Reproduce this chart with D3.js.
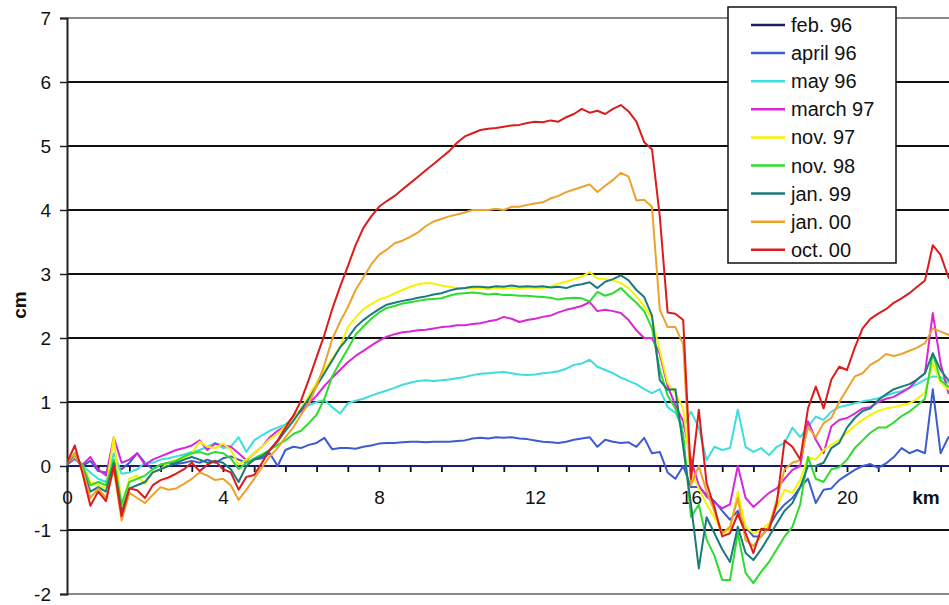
<!DOCTYPE html>
<html>
<head>
<meta charset="utf-8">
<script src="https://cdn.jsdelivr.net/npm/d3@7"></script>
<style>
  body { margin: 0; background: #fff; }
  svg { display: block; font-family: Arial, "Liberation Sans", sans-serif; }
</style>
</head>
<body>
<svg id="chart" width="949" height="605"></svg>
<script>
// Distance along the profile (km), one sample every 0.2 km
const km = [
  0.0, 0.2, 0.4, 0.6, 0.8, 1.0, 1.2, 1.4, 1.6, 1.8, 2.0, 2.2, 2.4, 2.6, 2.8,
  3.0, 3.2, 3.4, 3.6, 3.8, 4.0, 4.2, 4.4, 4.6, 4.8, 5.0, 5.2, 5.4, 5.6, 5.8,
  6.0, 6.2, 6.4, 6.6, 6.8, 7.0, 7.2, 7.4, 7.6, 7.8, 8.0, 8.2, 8.4, 8.6, 8.8,
  9.0, 9.2, 9.4, 9.6, 9.8, 10.0, 10.2, 10.4, 10.6, 10.8, 11.0, 11.2, 11.4, 11.6, 11.8,
  12.0, 12.2, 12.4, 12.6, 12.8, 13.0, 13.2, 13.4, 13.6, 13.8, 14.0, 14.2, 14.4, 14.6, 14.8,
  15.0, 15.2, 15.4, 15.6, 15.8, 16.0, 16.2, 16.4, 16.6, 16.8, 17.0, 17.2, 17.4, 17.6, 17.8,
  18.0, 18.2, 18.4, 18.6, 18.8, 19.0, 19.2, 19.4, 19.6, 19.8, 20.0, 20.2, 20.4, 20.6, 20.8,
  21.0, 21.2, 21.4, 21.6, 21.8, 22.0, 22.2, 22.4, 22.6, 22.8, 23.0
];

// Height change (cm) relative to the February 1996 survey
const feb96 = [
  0, 0, 0, 0, 0, 0, 0, 0, 0, 0, 0, 0, 0, 0, 0, 0, 0, 0, 0, 0,
  0, 0, 0, 0, 0, 0, 0, 0, 0, 0, 0, 0, 0, 0, 0, 0, 0, 0, 0, 0,
  0, 0, 0, 0, 0, 0, 0, 0, 0, 0, 0, 0, 0, 0, 0, 0, 0, 0, 0, 0,
  0, 0, 0, 0, 0, 0, 0, 0, 0, 0, 0, 0, 0, 0, 0, 0, 0, 0, 0, 0,
  0, 0, 0, 0, 0, 0, 0, 0, 0, 0, 0, 0, 0, 0, 0, 0, 0, 0, 0, 0,
  0, 0, 0, 0, 0, 0, 0, 0, 0, 0, 0, 0, 0, 0, 0, 0
];
const april96 = [
  0.02, 0.12, 0.0, 0.08, -0.08,  -0.1, 0.05, -0.05, 0.05, 0.2,
  0.05, -0.05, 0.02, 0.05, 0.03,  0.05, 0.08, 0.05, 0.1, 0.05,
  0.12, 0.15, 0.1, 0.05, 0.1,  0.12, 0.2, 0.0, 0.25, 0.3,
  0.28, 0.33, 0.36, 0.44, 0.26,  0.28, 0.28, 0.27, 0.3, 0.32,
  0.35, 0.36, 0.36, 0.37, 0.38,  0.38, 0.37, 0.38, 0.38, 0.38,
  0.39, 0.4, 0.43, 0.44, 0.43,  0.45, 0.44, 0.45, 0.43, 0.42,
  0.4, 0.38, 0.37, 0.36, 0.38,  0.41, 0.43, 0.45, 0.3, 0.41,
  0.38, 0.36, 0.37, 0.3, 0.44,  0.2, 0.22, -0.1, -0.2, 0.0,
  -0.33, -0.33, -0.45, -0.55, -0.7,  -0.84, -0.7, -0.95, -1.1, -1.1,
  -0.95, -0.74, -0.6, -0.5, -0.33,  -0.2, -0.58, -0.37, -0.35, -0.22,
  -0.14, -0.06, 0.0, 0.03, -0.03,  0.04, 0.14, 0.28, 0.2, 0.25,
  0.2, 1.2, 0.2, 0.45, 0.4,  0.35
];
const may96 = [
  0.03, 0.1, 0.0, -0.1, -0.2,  -0.25, 0.2, -0.12, -0.1, -0.05,
  0.05, 0.05, 0.1, 0.12, 0.15,  0.18, 0.22, 0.25, 0.3, 0.36,
  0.28, 0.3, 0.45, 0.22, 0.4,  0.48, 0.55, 0.6, 0.65, 0.75,
  0.85, 0.95, 1.0, 1.03, 0.92,  0.82, 0.98, 1.02, 1.05, 1.1,
  1.14, 1.18, 1.22, 1.27, 1.3,  1.33, 1.34, 1.33, 1.34, 1.35,
  1.37, 1.39, 1.42, 1.44, 1.45,  1.46, 1.47, 1.45, 1.43, 1.42,
  1.43, 1.45, 1.46, 1.48, 1.52,  1.58, 1.6, 1.66, 1.55, 1.5,
  1.45, 1.38, 1.33, 1.28, 1.2,  1.14, 1.2, 0.92, 0.83, 0.6,
  0.85, 0.6, 0.09, 0.3, 0.25,  0.28, 0.88, 0.3, 0.22, 0.28,
  0.17, 0.3, 0.36, 0.6, 0.45,  0.61, 0.77, 0.72, 0.85, 0.92,
  0.95, 0.98, 1.01, 1.03, 1.06,  1.1, 1.14, 1.17, 1.22, 1.28,
  1.35, 1.4, 1.39, 1.3, 1.28,  1.25
];
const march97 = [
  0.02, 0.12, 0.02, 0.14, -0.05,  -0.15, 0.45, 0.05, 0.1, 0.2,
  0.02, 0.1, 0.15, 0.2, 0.25,  0.28, 0.32, 0.4, 0.25, 0.35,
  0.32, 0.3, 0.2, 0.09, 0.2,  0.3, 0.45, 0.55, 0.62, 0.78,
  0.85, 0.98, 1.1, 1.25, 1.38,  1.5, 1.62, 1.72, 1.8, 1.88,
  1.96, 2.02, 2.06, 2.09, 2.1,  2.12, 2.13, 2.15, 2.17, 2.18,
  2.2, 2.2, 2.22, 2.23, 2.26,  2.28, 2.33, 2.3, 2.25, 2.28,
  2.3, 2.33, 2.35, 2.4, 2.44,  2.47, 2.5, 2.56, 2.42, 2.44,
  2.42, 2.39, 2.28, 2.12, 2.0,  2.0, 1.75, 1.25, 0.95, 0.7,
  0.1, -0.3, -0.48, -0.57, -0.66,  -0.6, 0.0, -0.5, -0.64, -0.53,
  -0.42, -0.35, -0.2, -0.06, 0.0,  0.7, 0.41, 0.2, 0.62, 0.72,
  0.75, 0.82, 0.9, 0.92, 1.0,  1.05, 1.08, 1.15, 1.22, 1.35,
  1.45, 2.39, 1.6, 1.14, 1.1,  1.05
];
const nov97 = [
  0.03, 0.15, 0.0, -0.25, -0.3,  -0.35, 0.45, -0.62, -0.2, -0.15,
  -0.28, -0.1, -0.05, 0.05, 0.1,  0.12, 0.2, 0.38, 0.3, 0.28,
  0.35, 0.25, 0.02, 0.1, 0.2,  0.3, 0.42, 0.5, 0.62, 0.72,
  0.9, 1.1, 1.3, 1.5, 1.68,  1.86, 2.17, 2.32, 2.45, 2.53,
  2.6, 2.64, 2.7, 2.75, 2.8,  2.84, 2.86, 2.85, 2.82, 2.8,
  2.78, 2.77, 2.78, 2.78, 2.76,  2.78, 2.77, 2.78, 2.77, 2.79,
  2.78, 2.78, 2.8, 2.85, 2.88,  2.92, 2.96, 3.03, 2.93, 2.92,
  2.9, 2.86, 2.78, 2.65, 2.5,  2.3, 1.8, 1.3, 1.14, 0.9,
  -0.1, -0.35, -0.6, -0.8, -1.05,  -1.0, -0.4, -0.95, -1.05, -1.0,
  -0.9, -0.65, -0.37, -0.42, -0.22,  0.14, 0.1, 0.25, 0.33, 0.41,
  0.52, 0.63, 0.72, 0.8, 0.86,  0.9, 0.92, 0.95, 0.98, 1.05,
  1.15, 1.6, 1.3, 1.2, 1.15,  1.1
];
const nov98 = [
  0.02, 0.18, 0.0, -0.3, -0.25,  -0.3, 0.1, -0.6, -0.25, -0.2,
  -0.15, -0.05, 0.02, 0.05, 0.08,  0.15, 0.2, 0.22, 0.18, 0.22,
  0.2, 0.12, -0.05, 0.05, 0.12,  0.18, 0.25, 0.33, 0.4, 0.5,
  0.55, 0.67, 0.8, 1.05, 1.4,  1.62, 1.83, 2.05, 2.18, 2.3,
  2.4, 2.47, 2.5, 2.54, 2.56,  2.58, 2.6, 2.61, 2.62, 2.66,
  2.69, 2.7, 2.71, 2.7, 2.68,  2.69, 2.67, 2.67, 2.66, 2.66,
  2.65, 2.64, 2.63, 2.6, 2.62,  2.63, 2.62, 2.57, 2.72, 2.66,
  2.7, 2.78, 2.66, 2.55, 2.42,  2.15, 1.5, 1.1, 0.9, 0.5,
  -0.8, -0.6, -1.15, -1.4, -1.78,  -1.78, -1.05, -1.67, -1.83, -1.65,
  -1.5, -1.3, -1.1, -0.95, -0.6,  0.14, -0.2, -0.25, -0.05, -0.02,
  0.1, 0.28, 0.4, 0.52, 0.6,  0.6, 0.68, 0.78, 0.85, 0.95,
  1.05, 1.76, 1.34, 1.24, 1.2,  1.15
];
const jan99 = [
  0.02, 0.2, -0.05, -0.4, -0.33,  -0.4, 0.05, -0.72, -0.35, -0.3,
  -0.25, -0.1, -0.05, 0.0, 0.05,  0.1, 0.14, 0.1, 0.05, 0.08,
  0.05, -0.05, -0.25, 0.0, 0.1,  0.15, 0.25, 0.38, 0.55, 0.7,
  0.88, 1.05, 1.25, 1.45, 1.65,  1.85, 2.0, 2.17, 2.28, 2.37,
  2.45, 2.52, 2.55, 2.58, 2.6,  2.63, 2.65, 2.68, 2.7, 2.74,
  2.77, 2.78, 2.8, 2.8, 2.79,  2.81, 2.8, 2.82, 2.8, 2.81,
  2.8, 2.81, 2.79, 2.8, 2.78,  2.82, 2.84, 2.87, 2.78, 2.88,
  2.92, 2.98, 2.9, 2.75, 2.64,  2.35, 1.34, 1.19, 1.2, 0.3,
  -0.6, -1.6, -0.8, -1.05, -1.3,  -1.5, -0.95, -1.36, -1.47, -1.3,
  -1.1, -0.9, -0.7, -0.58, -0.33,  0.0, 0.0, 0.05, 0.28, 0.36,
  0.6, 0.75, 0.86, 0.9, 1.03,  1.12, 1.2, 1.24, 1.28, 1.35,
  1.45, 1.76, 1.5, 1.34, 1.25,  1.2
];
const jan00 = [
  0.05, 0.2, -0.05, -0.5, -0.35,  -0.5, -0.05, -0.85, -0.42, -0.5,
  -0.58, -0.45, -0.33, -0.37, -0.35,  -0.28, -0.2, -0.1, -0.15, -0.22,
  -0.2, -0.3, -0.53, -0.37, -0.2,  -0.02, 0.15, 0.28, 0.45, 0.6,
  0.8, 0.98, 1.25, 1.58, 1.98,  2.25, 2.48, 2.75, 2.95, 3.15,
  3.3, 3.38, 3.48, 3.52, 3.58,  3.65, 3.75, 3.82, 3.86, 3.9,
  3.93, 3.96, 4.0, 4.0, 4.0,  4.02, 4.0, 4.05, 4.05, 4.08,
  4.1, 4.12, 4.18, 4.22, 4.28,  4.32, 4.36, 4.4, 4.28, 4.38,
  4.47, 4.58, 4.52, 4.15, 4.16,  4.05, 2.44, 2.17, 2.17, 1.9,
  -0.3, 0.0, -0.4, -0.7, -1.05,  -0.95, -0.5, -1.16, -1.25, -1.1,
  -0.95, -0.53, -0.05, 0.05, 0.09,  0.61, 0.45, 0.67, 0.75, 1.0,
  1.2, 1.4, 1.45, 1.58, 1.65,  1.75, 1.72, 1.75, 1.8, 1.85,
  1.92, 2.15, 2.1, 2.05, 1.95,  1.9
];
const oct00 = [
  0.05, 0.32, -0.12, -0.62, -0.4,  -0.55, 0.0, -0.78, -0.35, -0.38,
  -0.5, -0.3, -0.22, -0.18, -0.12,  -0.05, 0.05, -0.08, 0.02, 0.08,
  -0.05, -0.1, -0.37, -0.17, -0.14,  0.05, 0.25, 0.4, 0.6, 0.78,
  1.02, 1.35, 1.7, 2.05, 2.45,  2.8, 3.12, 3.45, 3.72, 3.9,
  4.05, 4.14, 4.22, 4.32, 4.42,  4.52, 4.62, 4.72, 4.82, 4.92,
  5.05, 5.15, 5.2, 5.25, 5.27,  5.28, 5.3, 5.32, 5.33, 5.36,
  5.38, 5.37, 5.4, 5.38, 5.45,  5.5, 5.58, 5.52, 5.55, 5.5,
  5.58, 5.64, 5.54, 5.38, 5.06,  4.95, 3.9, 2.4, 2.38, 2.28,
  -0.2, 0.88, -0.27, -0.64, -1.1,  -1.05, -0.75, -1.05, -1.36, -0.98,
  -1.0, -0.58, 0.4, 0.3, 0.1,  0.9, 1.24, 0.9, 1.35, 1.55,
  1.5, 1.85, 2.15, 2.3, 2.38,  2.45, 2.55, 2.62, 2.7, 2.8,
  2.9, 3.45, 3.3, 2.95, 2.8,  2.7
];

const seriesNames = ["feb. 96", "april 96", "may 96", "march 97", "nov. 97",
                     "nov. 98", "jan. 99", "jan. 00", "oct. 00"];
const seriesValues = [feb96, april96, may96, march97, nov97, nov98, jan99, jan00, oct00];
const seriesColors = ["#1c1c6c", "#3c5ccf", "#3ddede", "#d826d8", "#f4f400",
                      "#2edc2e", "#1b7a7c", "#eca22c", "#dc1c1c"];

const yTickValues = [-2, -1, 0, 1, 2, 3, 4, 5, 6, 7];
const xLabelValues = [0, 4, 8, 12, 16, 20];

const svg = d3.select("#chart");
const W = 949, H = 605;
svg.append("rect").attr("width", W).attr("height", H).attr("fill", "#fff");

const x = d3.scaleLinear().domain([0, 23]).range([67, 67 + 23 * 39]);
const y = d3.scaleLinear().domain([-2, 7]).range([594, 18]);
const xRight = W;

// Plot frame (grey) at top and bottom
[7, -2].forEach(v => {
  svg.append("line")
    .attr("x1", 67).attr("x2", xRight)
    .attr("y1", y(v)).attr("y2", y(v))
    .attr("stroke", "#8a8a8a").attr("stroke-width", 2);
});

// Horizontal gridlines
svg.append("g").selectAll("line")
  .data(yTickValues.filter(v => v !== 0 && v !== 7 && v !== -2))
  .join("line")
  .attr("x1", 67).attr("x2", xRight)
  .attr("y1", d => y(d)).attr("y2", d => y(d))
  .attr("stroke", "#111").attr("stroke-width", 1.8);

// Y axis
const yAxis = svg.append("g")
  .attr("transform", "translate(67,0)")
  .call(d3.axisLeft(y).tickValues(yTickValues).tickSize(7).tickPadding(9)
    .tickFormat(d => d < 0 ? "-" + Math.abs(d) : String(d)));
yAxis.select(".domain").attr("stroke", "#222").attr("stroke-width", 2);
yAxis.selectAll(".tick line").attr("stroke", "#222").attr("stroke-width", 1.5);
yAxis.selectAll("text").attr("font-size", 19).attr("fill", "#111")
  .attr("font-family", "Arial, 'Liberation Sans', sans-serif");

// X axis along zero: tick marks every 0.8 km
const xTicks = d3.range(0, 22.5, 0.8);
const xAxisTicks = svg.append("g")
  .attr("transform", `translate(0,${y(0)})`)
  .call(d3.axisBottom(x).tickValues(xTicks).tickSize(6).tickFormat(""));
xAxisTicks.select(".domain").attr("stroke", "#111").attr("stroke-width", 1.5)
  .attr("d", `M67,0H${xRight}`);
xAxisTicks.selectAll(".tick line").attr("stroke", "#111").attr("stroke-width", 1.8);

// X labels every 4 km
const xAxisLabels = svg.append("g")
  .attr("transform", `translate(0,${y(0)})`)
  .call(d3.axisBottom(x).tickValues(xLabelValues).tickSize(0).tickPadding(25)
    .tickFormat(d3.format("d")));
xAxisLabels.select(".domain").remove();
xAxisLabels.selectAll("text").attr("font-size", 19).attr("fill", "#111")
  .attr("font-family", "Arial, 'Liberation Sans', sans-serif");

// Survey lines
const line = d3.line()
  .x((d, i) => x(km[i]))
  .y(d => y(d));

svg.append("defs").append("clipPath").attr("id", "plot-clip")
  .append("rect").attr("x", 67).attr("y", 0).attr("width", W - 67).attr("height", H);

const linesG = svg.append("g").attr("clip-path", "url(#plot-clip)");
seriesValues.forEach((vals, s) => {
  linesG.append("path")
    .datum(vals)
    .attr("fill", "none")
    .attr("stroke", seriesColors[s])
    .attr("stroke-width", 2)
    .attr("stroke-linejoin", "round")
    .attr("d", line);
});

// Axis titles
svg.append("text")
  .attr("x", 926).attr("y", 504)
  .attr("text-anchor", "middle")
  .attr("font-size", 19).attr("font-weight", "bold").attr("fill", "#111")
  .text("km");

svg.append("text")
  .attr("transform", "translate(26,305) rotate(-90)")
  .attr("text-anchor", "middle")
  .attr("font-size", 19).attr("font-weight", "bold").attr("fill", "#111")
  .text("cm");

// Legend
const legend = svg.append("g");
legend.append("rect")
  .attr("x", 728).attr("y", 7).attr("width", 168).attr("height", 256)
  .attr("fill", "#fff").attr("stroke", "#111").attr("stroke-width", 1.5);

const rows = legend.selectAll("g.row")
  .data(seriesNames)
  .join("g")
  .attr("class", "row")
  .attr("transform", (d, i) => `translate(0,${25 + i * 28.1})`);
rows.append("line")
  .attr("x1", 751).attr("x2", 785).attr("y1", 0).attr("y2", 0)
  .attr("stroke", (d, i) => seriesColors[i]).attr("stroke-width", 2.5);
rows.append("text")
  .attr("x", 791).attr("y", 7)
  .attr("font-size", 20).attr("fill", "#111")
  .text(d => d);
</script>
</body>
</html>
